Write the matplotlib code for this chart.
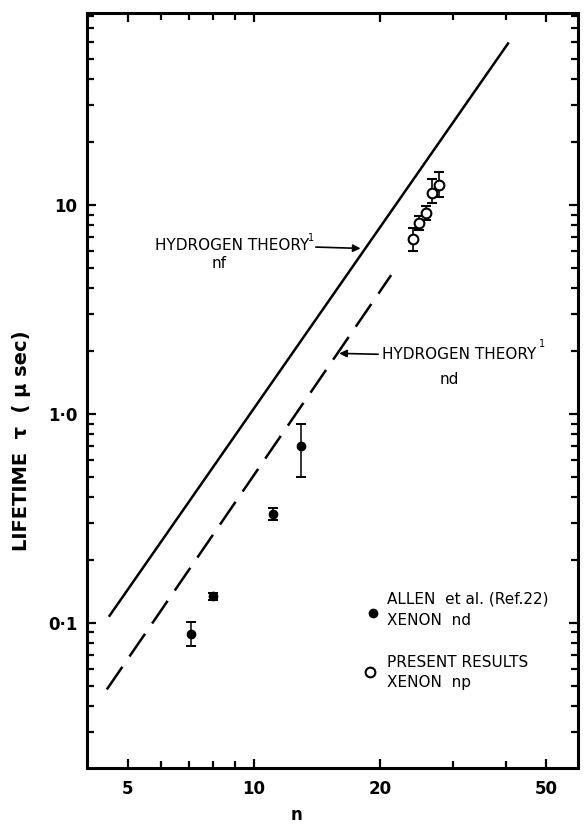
import numpy as np
import matplotlib.pyplot as plt
from matplotlib.ticker import FixedLocator, FixedFormatter, NullFormatter, LogLocator

# hydrogen theory lines (end points)
nf_n = [4.5, 40.7]
nf_tau = [0.107, 60.0]
nd_n = [4.45, 21.3]
nd_tau = [0.048, 4.62]

# Allen et al. (Ref.22), xenon nd
allen_n = [7.07, 7.98, 11.1, 13.0]
allen_tau = [0.0886, 0.134, 0.333, 0.703]
allen_lo = [0.0776, 0.129, 0.311, 0.50]
allen_hi = [0.101, 0.139, 0.356, 0.895]

# present results, xenon np
xe_n = [24.0, 24.9, 25.8, 26.7, 27.7]
xe_tau = [6.87, 8.2, 9.16, 11.4, 12.5]
xe_lo = [6.03, 7.56, 8.45, 10.2, 10.9]
xe_hi = [7.76, 8.9, 9.93, 13.3, 14.4]

x_major = [5, 10, 20, 50]
x_minor = [6, 7, 8, 9, 30, 40]
x_labels = ['5', '10', '20', '50']
y_major = [0.1, 1.0, 10]
y_labels = ['0·1', '1·0', '10']

fig = plt.figure(figsize=(5.86, 8.25), dpi=100)
ax = fig.add_axes([0.1485, 0.0691, 0.8378, 0.9151])

ax.plot(nf_n, nf_tau, color='k', lw=1.8, solid_capstyle='butt')
ax.plot(nd_n, nd_tau, color='k', lw=1.8, linestyle=(0, (11, 5)), dash_capstyle='butt')

a_t = np.array(allen_tau)
ax.errorbar(allen_n, allen_tau,
            yerr=[a_t - np.array(allen_lo), np.array(allen_hi) - a_t],
            fmt='o', color='k', ms=6, lw=1.1, capsize=3.5, capthick=1.4)
x_t = np.array(xe_tau)
ax.errorbar(xe_n, xe_tau,
            yerr=[x_t - np.array(xe_lo), np.array(xe_hi) - x_t],
            fmt='o', color='k', mfc='white', mec='k', mew=1.5, ms=7,
            lw=1.2, capsize=3.5, capthick=1.4)

ax.set_xscale('log')
ax.set_yscale('log')
ax.set_xlim(3.99, 59.6)
ax.set_ylim(0.0202, 83)

ax.xaxis.set_major_locator(FixedLocator(x_major))
ax.xaxis.set_major_formatter(FixedFormatter(x_labels))
ax.xaxis.set_minor_locator(FixedLocator(x_minor))
ax.xaxis.set_minor_formatter(NullFormatter())
ax.yaxis.set_major_locator(FixedLocator(y_major))
ax.yaxis.set_major_formatter(FixedFormatter(y_labels))
ax.yaxis.set_minor_locator(LogLocator(base=10, subs=np.arange(2, 10), numticks=20))
ax.yaxis.set_minor_formatter(NullFormatter())

ax.tick_params(which='both', direction='in', top=True, right=True, width=1.6)
ax.tick_params(which='major', length=6.5, labelsize=12, pad=7)
ax.tick_params(which='minor', length=5)
ax.tick_params(axis='x', which='major', pad=9)
for lab in ax.get_xticklabels() + ax.get_yticklabels():
    lab.set_fontweight('bold')
for sp in ax.spines.values():
    sp.set_linewidth(2.2)

ax.set_ylabel('LIFETIME  τ  ( μ sec)', fontsize=14, fontweight='bold')
ax.yaxis.set_label_coords(-0.114, 0.434)
ax.set_xlabel('n', fontsize=12, fontweight='bold')
ax.xaxis.set_label_coords(0.426, -0.050)

# annotations
arrow = dict(arrowstyle='-|>', lw=1.2, color='k', mutation_scale=11, shrinkA=0, shrinkB=0)
ax.text(0.1385, 0.692, 'HYDROGEN THEORY', transform=ax.transAxes, fontsize=11, va='center', ha='left')
ax.text(0.457, 0.702, '1', transform=ax.transAxes, fontsize=7, va='center', ha='center')
ax.text(0.269, 0.668, 'nf', transform=ax.transAxes, fontsize=11, va='center', ha='center')
ax.annotate('', xy=(18.0, 6.2), xycoords='data', xytext=(0.466, 0.690),
            textcoords='axes fraction', arrowprops=arrow)

ax.text(0.601, 0.548, 'HYDROGEN THEORY', transform=ax.transAxes, fontsize=11, va='center', ha='left')
ax.text(0.926, 0.562, '1', transform=ax.transAxes, fontsize=7, va='center', ha='center')
ax.text(0.737, 0.515, 'nd', transform=ax.transAxes, fontsize=11, va='center', ha='center')
ax.annotate('', xy=(16.0, 1.95), xycoords='data', xytext=(0.593, 0.548),
            textcoords='axes fraction', arrowprops=arrow)

# key
ax.plot([0.582], [0.205], 'o', color='k', ms=6, transform=ax.transAxes)
ax.text(0.611, 0.224, 'ALLEN  et al. (Ref.22)', transform=ax.transAxes, fontsize=11, va='center')
ax.text(0.611, 0.196, 'XENON  nd', transform=ax.transAxes, fontsize=11, va='center')
ax.plot([0.576], [0.127], 'o', mfc='white', mec='k', mew=1.5, ms=7, transform=ax.transAxes)
ax.text(0.611, 0.140, 'PRESENT RESULTS', transform=ax.transAxes, fontsize=11, va='center')
ax.text(0.611, 0.113, 'XENON  np', transform=ax.transAxes, fontsize=11, va='center')

plt.savefig('out.png', dpi=100)
